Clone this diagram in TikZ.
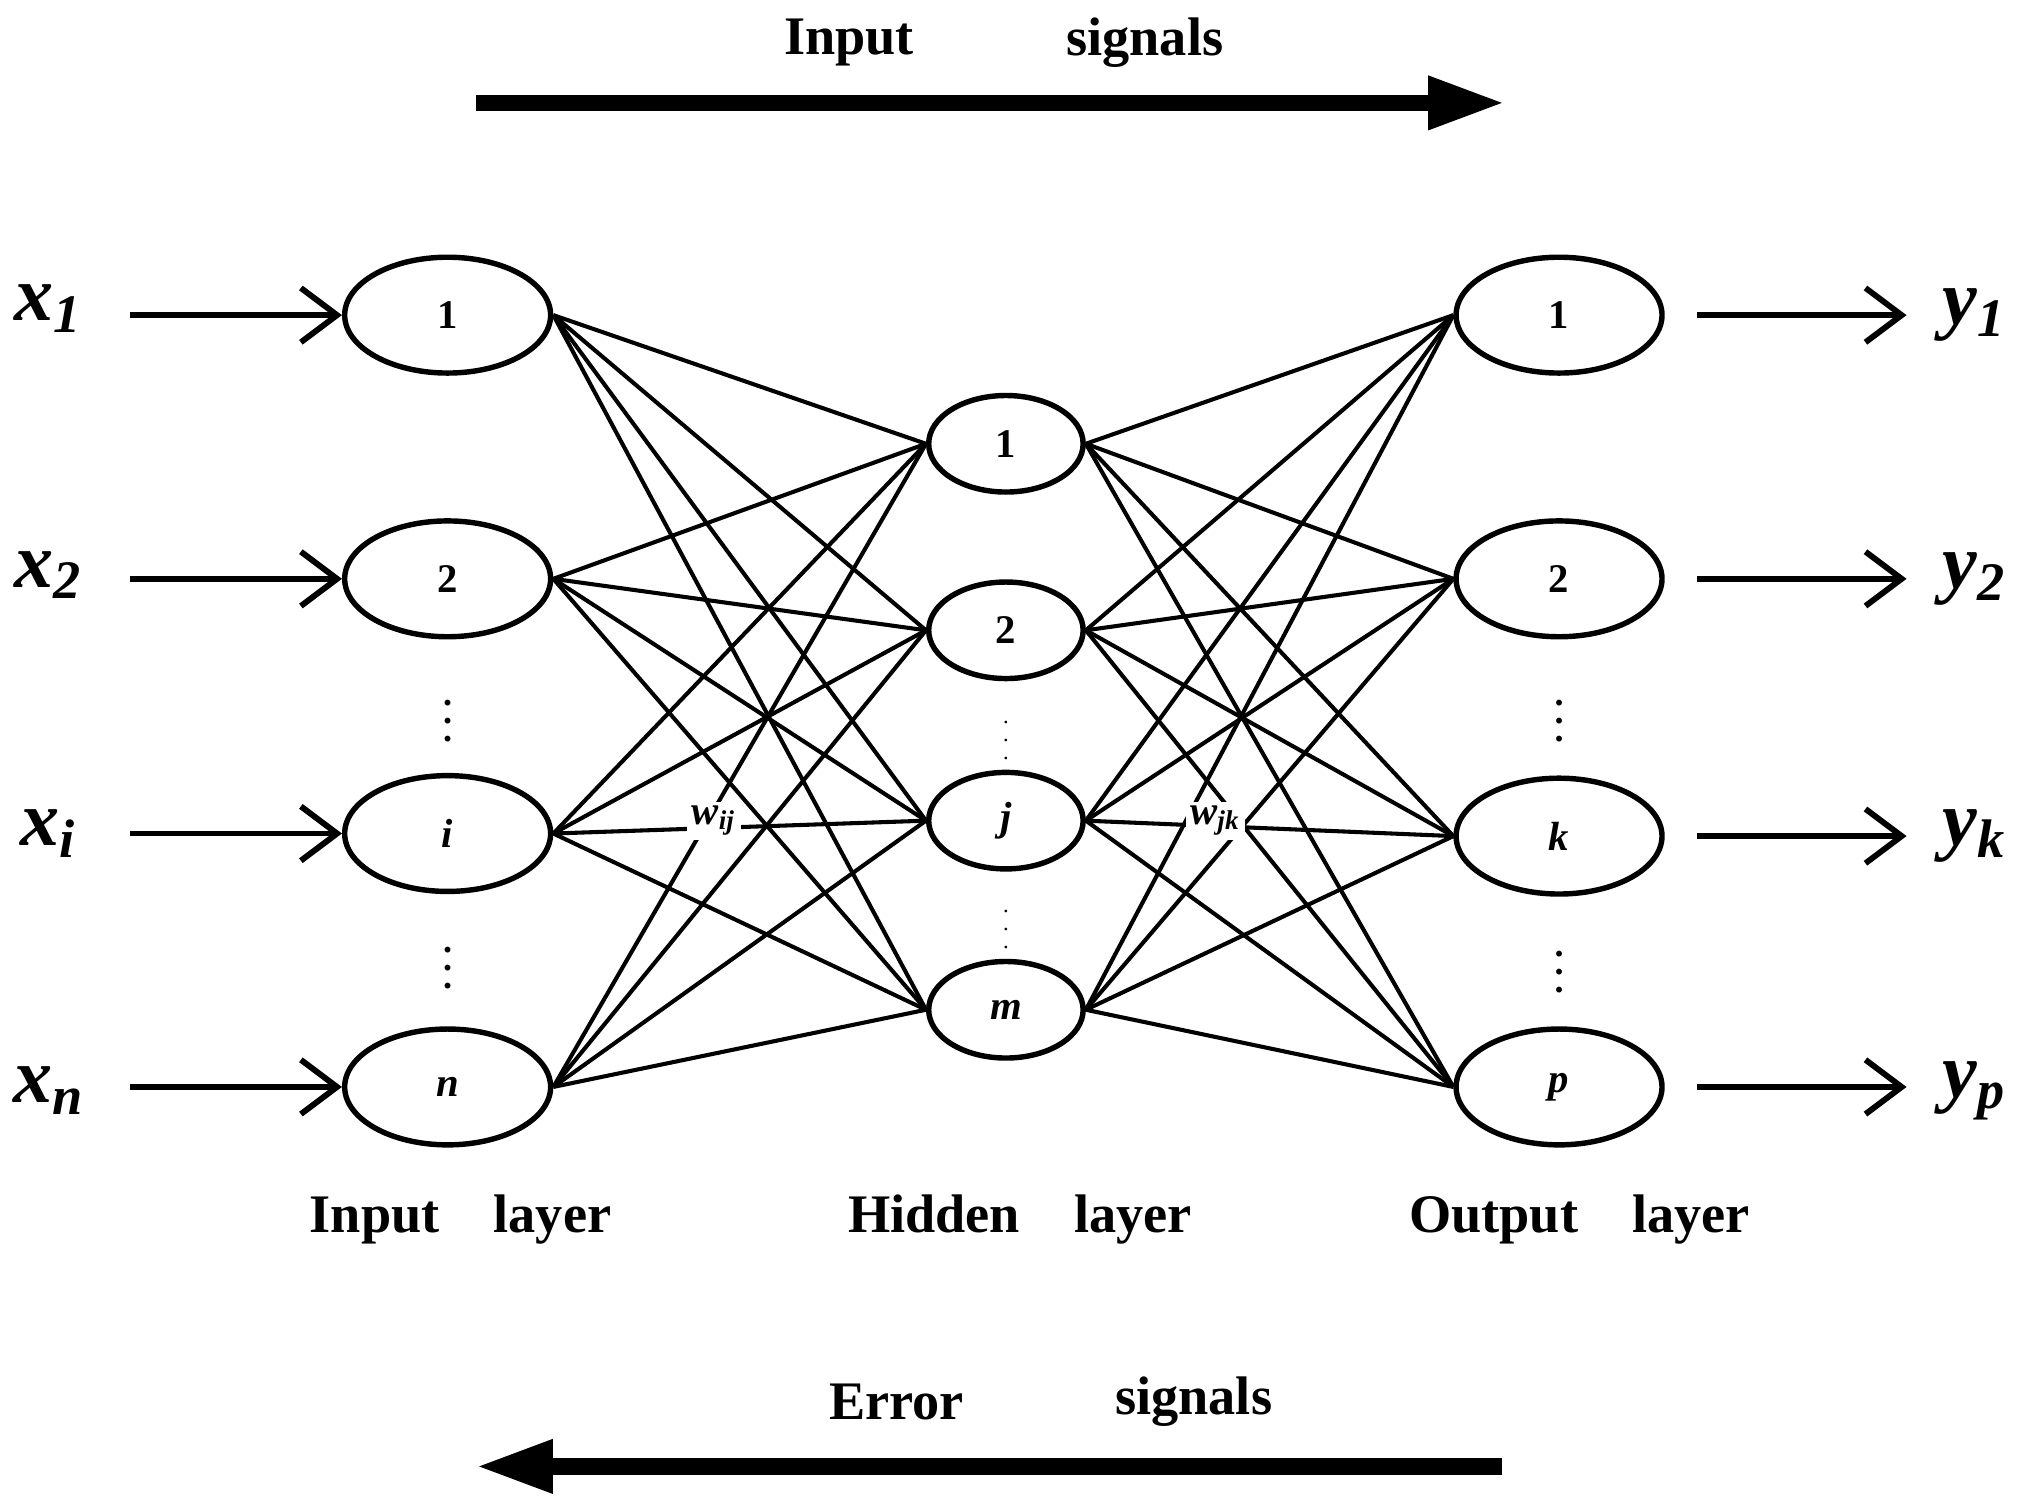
\documentclass[tikz,border=0pt]{standalone}
\usepackage{fontspec}
\setmainfont{Liberation Serif}
\usetikzlibrary{arrows.meta,shapes.geometric,calc}
\begin{document}
\begin{tikzpicture}[x=0.01cm,y=-0.01cm,
  io/.style={draw,line width=1.2pt,minimum width=1.6cm,minimum height=0.9cm,ellipse,font=\bfseries\small},
  hid/.style={draw,line width=1.2pt,minimum width=1.2cm,minimum height=0.75cm,ellipse,font=\bfseries\small},
  ar/.style={line width=1.3pt,-{Straight Barb[length=8pt,width=12pt]}},
  con/.style={line width=0.9pt},
  lab/.style={font=\bfseries\itshape\LARGE},
  ttl/.style={font=\bfseries\large},
  dots/.style={font=\bfseries\footnotesize,inner sep=0pt},
  bigar/.style={line width=3.6pt,-{Triangle[length=17pt,width=11pt]}}]
\useasboundingbox (0,0) rectangle (1568,1171);
% input layer
\node[io] (i1) at (348,245) {1};
\node[io] (i2) at (348,450) {2};
\node[io] (ii) at (348,648) {\itshape i};
\node[io] (in) at (348,845) {\itshape n};
% hidden
\node[hid] (h1) at (782,345) {1};
\node[hid] (h2) at (782,490) {2};
\node[hid] (hj) at (782,638) {\itshape j};
\node[hid] (hm) at (782,785) {\itshape m};
% output
\node[io] (o1) at (1212,245) {1};
\node[io] (o2) at (1212,450) {2};
\node[io] (ok) at (1212,650) {\itshape k};
\node[io] (op) at (1212,845) {\itshape p};
% connections
\foreach \a in {i1,i2,ii,in}{\foreach \b in {h1,h2,hj,hm}{\draw[con] (\a.east) -- (\b.west);}}
\foreach \a in {h1,h2,hj,hm}{\foreach \b in {o1,o2,ok,op}{\draw[con] (\a.east) -- (\b.west);}}
\node[fill=white,inner sep=1pt,font=\bfseries\itshape\small] (wij) at (555,638) {w\textsubscript{ij}};
\node[fill=white,inner sep=1pt,font=\bfseries\itshape\small] (wjk) at (945,638) {w\textsubscript{jk}};
% dots
\foreach \p/\y in {348/550,348/742,1212/550,1212/745}{\node[dots] at (\p,\y) {$\vdots$};}
\foreach \y in {565,712}{\node[font=\tiny,inner sep=0pt] at (782,\y) {$\vdots$};}
% inputs/outputs
\node[lab] (x1) at (38,240) {x\textsubscript{1}};
\node[lab] (x2) at (38,447) {x\textsubscript{2}};
\node[lab] (xi) at (38,648) {x\textsubscript{i}};
\node[lab] (xn) at (38,848) {x\textsubscript{n}};
\node[lab] (y1) at (1535,245) {y\textsubscript{1}};
\node[lab] (y2) at (1535,450) {y\textsubscript{2}};
\node[lab] (yk) at (1535,650) {y\textsubscript{k}};
\node[lab] (yp) at (1535,848) {y\textsubscript{p}};
\foreach \a/\b in {x1/i1,x2/i2,xi/ii,xn/in}{\draw[ar] ($(\b.west)+(-165,0)$) -- (\b.west);}
\foreach \a/\b in {o1/y1,o2/y2,ok/yk,op/yp}{\draw[ar] ($(\a.east)+(25,0)$) -- ($(\a.east)+(188,0)$);}
% layer labels
\node[ttl] at (358,948) {Input\quad layer};
\node[ttl] at (793,948) {Hidden\quad layer};
\node[ttl] at (1228,948) {Output\quad layer};
% signals
\node[ttl] at (660,33) {Input};
\node[ttl] at (890,33) {signals};
\coordinate (ta) at (370,80); \coordinate (tb) at (1170,80);
\draw[bigar] (ta) -- (tb);
\node[ttl] at (697,1090) {Error};
\node[ttl] at (928,1090) {signals};
\coordinate (ba) at (1168,1140); \coordinate (bb) at (370,1140);
\draw[bigar] (ba) -- (bb);
\end{tikzpicture}
\end{document}
